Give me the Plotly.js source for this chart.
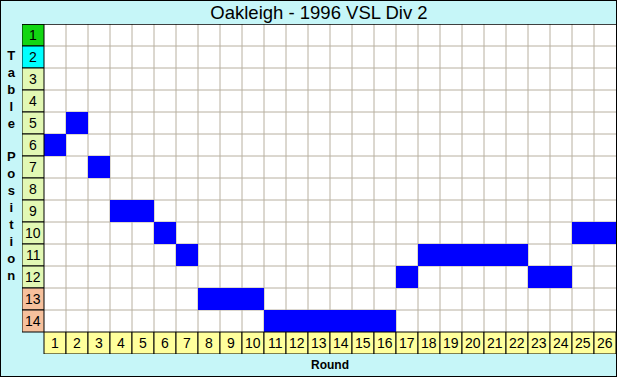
<!DOCTYPE html>
<html><head><meta charset="utf-8">
<script src="https://cdn.plot.ly/plotly-3.0.1.min.js"></script>
<style>
body{margin:0;padding:0;background:#fff;}
#wrap{position:relative;width:617px;height:377px;}
#chart{width:617px;height:377px;}
#frame{position:absolute;left:0;top:0;width:615px;height:375px;border:1px solid #000;pointer-events:none;}
</style></head>
<body><div id="wrap"><div id="chart"></div><div id="frame"></div></div>
<script>
const rounds = [1,2,3,4,5,6,7,8,9,10,11,12,13,14,15,16,17,18,19,20,21,22,23,24,25,26];
const positions = [6,5,7,9,9,10,11,13,13,13,14,14,14,14,14,14,12,11,11,11,11,11,12,12,10,10];
const tablePositions = [1,2,3,4,5,6,7,8,9,10,11,12,13,14];
const positionColors = ['#12d612','#00ffff','#e2f8b4','#e2f8b4','#e2f8b4','#e2f8b4','#e2f8b4','#e2f8b4','#e2f8b4','#e2f8b4','#e2f8b4','#e2f8b4','#f6c09c','#f6c09c'];
const roundLabelColor = '#ffff9c';
const titleText = 'Oakleigh - 1996 VSL Div 2';
const yTitleText = 'Table Position';
const xTitleText = 'Round';

const nR = rounds.length, nP = tablePositions.length;
const bg = '#c6f6f8';
const grid = '#b8b0a0';
const font = 'Liberation Sans, Arial, sans-serif';

const shapes = [];
shapes.push({type:'rect',xref:'x',yref:'y',x0:0.5,x1:nR+0.5,y0:0.5,y1:nP+0.5,fillcolor:'#ffffff',line:{width:0},layer:'below'});
for (let k=1;k<nR;k++) shapes.push({type:'line',xref:'x',yref:'y',x0:k+0.5,x1:k+0.5,y0:0.5,y1:nP+0.5,line:{color:grid,width:1},layer:'below'});
for (let k=1;k<nP;k++) shapes.push({type:'line',xref:'x',yref:'y',x0:0.5,x1:nR+0.5,y0:k+0.5,y1:k+0.5,line:{color:grid,width:1},layer:'below'});
shapes.push({type:'line',xref:'x',yref:'y',x0:-0.5,x1:nR+0.5,y0:0.5,y1:0.5,line:{color:'#000',width:1.5}});

const traces = [
  {type:'bar', x:rounds, y:rounds.map(()=>1), base:positions.map(p=>p-0.5), width:1,
   marker:{color:'#0000ff',line:{width:0}}, hoverinfo:'skip'},
  {type:'bar', x:tablePositions.map(()=>0), y:tablePositions.map(()=>1), base:tablePositions.map(p=>p-0.5), width:1,
   marker:{color:positionColors,line:{color:'#000',width:1}}, hoverinfo:'skip'},
  {type:'bar', x:rounds, y:rounds.map(()=>1), base:rounds.map(()=>nP+0.5), width:1,
   marker:{color:roundLabelColor,line:{color:'#000',width:1}}, hoverinfo:'skip'}
];

const annotations = [];
tablePositions.forEach(p=>annotations.push({text:String(p), xref:'x', yref:'y', x:0, y:p, showarrow:false,
  xanchor:'center', yanchor:'middle', font:{family:font,size:14,color:'#000'}}));
rounds.forEach(r=>annotations.push({text:String(r), xref:'x', yref:'y', x:r, y:nP+1, showarrow:false,
  xanchor:'center', yanchor:'middle', font:{family:font,size:14,color:'#000'}}));
annotations.push({text:yTitleText.split('').map(c=>c===' '?'':c).join('<br>'), xref:'paper', yref:'paper', x:-22/594*0.5, y:1-(165.5-24)/330,
  showarrow:false, xanchor:'center', yanchor:'middle', font:{family:font,size:13,color:'#000',weight:'bold'}});
annotations.push({text:'<b>'+xTitleText+'</b>', xref:'paper', yref:'paper', x:(330-22)/594, y:-(365-354)/330,
  showarrow:false, xanchor:'center', yanchor:'middle', font:{family:font,size:12,color:'#000'}});

const layout = {
  width:617, height:377,
  margin:{l:22,r:1,t:24,b:23},
  paper_bgcolor:bg, plot_bgcolor:bg,
  barmode:'overlay', showlegend:false,
  title:{text:titleText, x:0.5, xref:'paper', y:0.966, yref:'container', yanchor:'middle',
         font:{family:font,size:18.5,color:'#000'}},
  xaxis:{range:[-0.5,nR+0.5], showgrid:false, zeroline:false, showticklabels:false, ticks:'', fixedrange:true},
  yaxis:{range:[nP+1.5,0.5], showgrid:false, zeroline:false, showticklabels:false, ticks:'', fixedrange:true},
  shapes:shapes,
  annotations:annotations
};
Plotly.newPlot('chart', traces, layout, {staticPlot:true, displayModeBar:false});
</script></body></html>
